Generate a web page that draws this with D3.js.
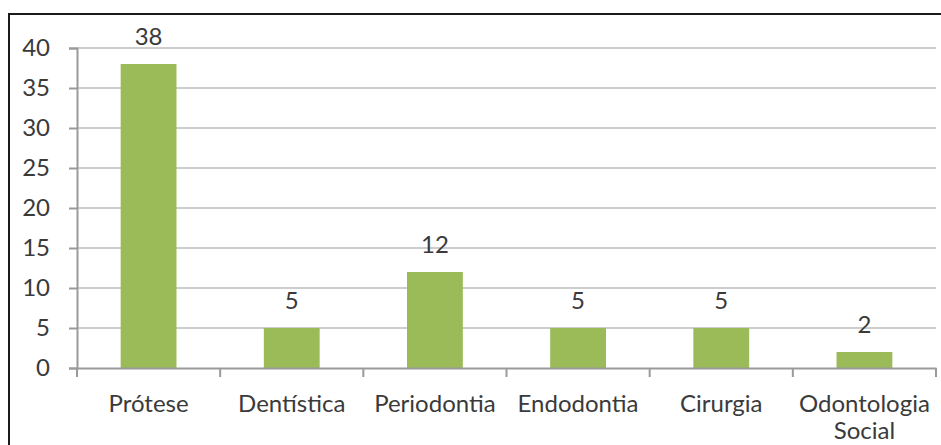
<!DOCTYPE html>
<html>
<head>
<meta charset="utf-8">
<script src="https://cdn.jsdelivr.net/npm/d3@7"></script>
<style>
  body { margin: 0; background: #fff; }
  svg text { font-family: Lato, "Open Sans", sans-serif; fill: #3a3a3a; }
</style>
</head>
<body>
<div id="chart"></div>
<script>
const categories = ['Prótese', 'Dentística', 'Periodontia', 'Endodontia', 'Cirurgia', 'Odontologia Social'];
const values = [38, 5, 12, 5, 5, 2];
const yTicks = [0, 5, 10, 15, 20, 25, 30, 35, 40];

const width = 941, height = 445;
const margin = { top: 48, right: 5, bottom: 77, left: 77 };
const fontSize = 24;

const svg = d3.select('#chart')
    .append('svg')
    .attr('width', width)
    .attr('height', height);

// outer frame (right and bottom sit outside the picture)
svg.append('rect')
    .attr('x', 9).attr('y', 14)
    .attr('width', 1000).attr('height', 1000)
    .attr('fill', 'none')
    .attr('stroke', '#1a1a1a')
    .attr('stroke-width', 2);

const x = d3.scaleBand()
    .domain(categories)
    .range([margin.left, width - margin.right]);

const y = d3.scaleLinear()
    .domain([0, 40])
    .range([height - margin.bottom, margin.top]);

// gridlines
svg.append('g')
    .selectAll('line')
    .data(yTicks.filter((d) => d > 0))
    .enter()
    .append('line')
    .attr('x1', margin.left).attr('x2', width - margin.right)
    .attr('y1', (d) => y(d)).attr('y2', (d) => y(d))
    .attr('stroke', '#cdcdcd')
    .attr('stroke-width', 2);

// y axis
const yAxis = svg.append('g')
    .attr('transform', `translate(${margin.left},0)`)
    .call(d3.axisLeft(y).tickValues(yTicks).tickSize(8).tickPadding(19));
yAxis.select('.domain').attr('stroke', '#9a9a9a').attr('stroke-width', 2);
yAxis.selectAll('.tick line').attr('stroke', '#9a9a9a').attr('stroke-width', 2);
yAxis.selectAll('text').style('font-size', fontSize + 'px').attr('fill', '#3a3a3a');

// bars
const barW = x.bandwidth() * 0.39;
svg.append('g')
    .selectAll('rect')
    .data(values)
    .enter()
    .append('rect')
    .attr('x', (d, i) => x(categories[i]) + (x.bandwidth() - barW) / 2)
    .attr('y', (d) => y(d))
    .attr('width', barW)
    .attr('height', (d) => y(0) - y(d))
    .attr('fill', '#9bbb59');

// value labels
svg.append('g')
    .selectAll('text')
    .data(values)
    .enter()
    .append('text')
    .attr('x', (d, i) => x(categories[i]) + x.bandwidth() / 2)
    .attr('y', (d) => y(d) - 19)
    .attr('text-anchor', 'middle')
    .style('font-size', fontSize + 'px')
    .text((d) => d);

// x axis
const xAxis = svg.append('g')
    .attr('transform', `translate(0,${y(0)})`)
    .call(d3.axisBottom(x).tickSize(0).tickFormat(''));
xAxis.select('.domain').attr('stroke', '#9a9a9a').attr('stroke-width', 2);

// category boundary ticks
const bounds = categories.map((c) => x(c)).concat([width - margin.right]);
xAxis.append('g')
    .selectAll('line')
    .data(bounds)
    .enter()
    .append('line')
    .attr('x1', (d) => d).attr('x2', (d) => d)
    .attr('y1', 0).attr('y2', 9)
    .attr('stroke', '#9a9a9a')
    .attr('stroke-width', 2);

// category labels, wrapped like the original
const labelLines = (c) => c === 'Odontologia Social' ? ['Odontologia', 'Social'] : [c];
xAxis.append('g')
    .selectAll('text')
    .data(categories)
    .enter()
    .append('text')
    .attr('x', (d) => x(d) + x.bandwidth() / 2)
    .attr('y', 44)
    .attr('text-anchor', 'middle')
    .style('font-size', fontSize + 'px')
    .each(function (d) {
      labelLines(d).forEach((line, i) => {
        d3.select(this).append('tspan')
            .attr('x', x(d) + x.bandwidth() / 2)
            .attr('dy', i === 0 ? 0 : 27)
            .text(line);
      });
    });
</script>
</body>
</html>
